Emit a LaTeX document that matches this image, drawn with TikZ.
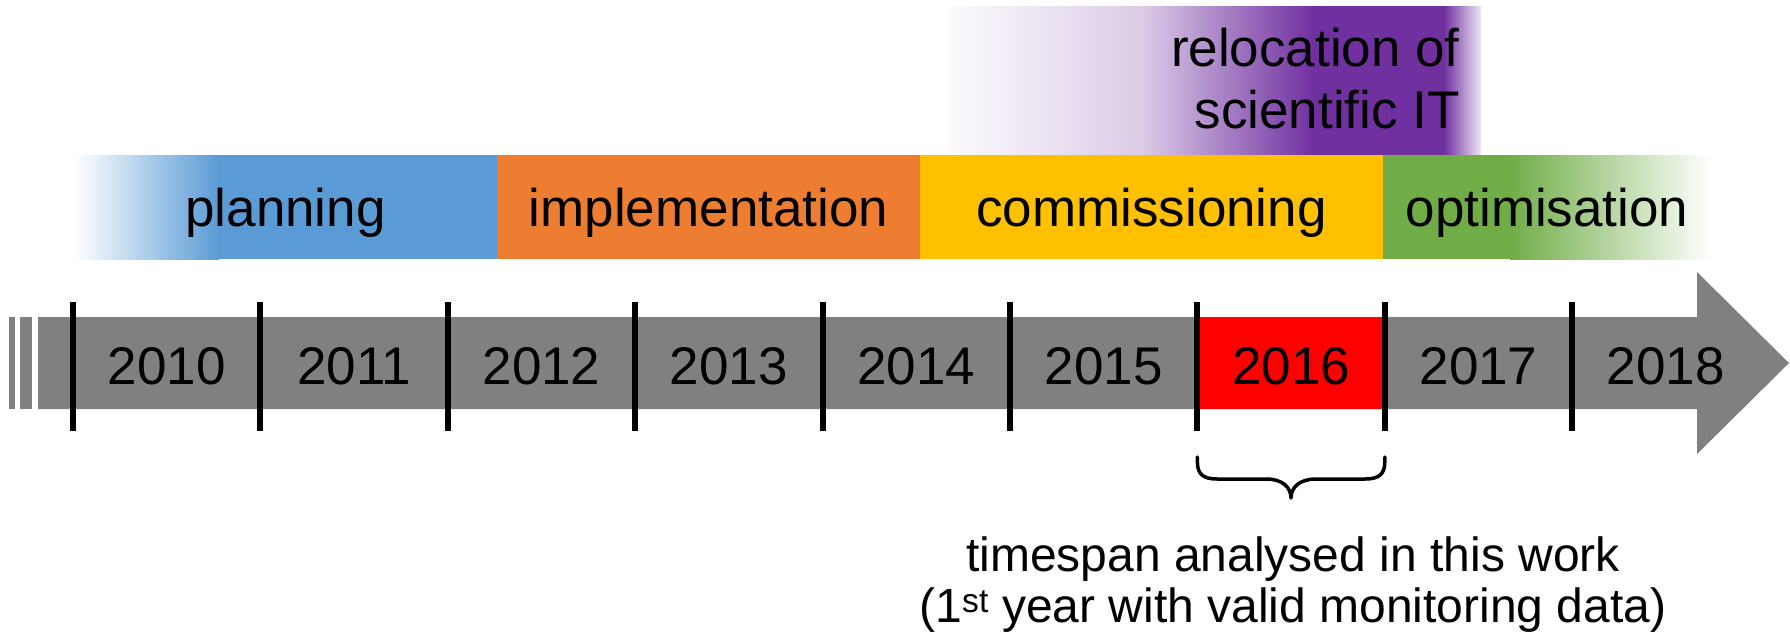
\documentclass[tikz,border=0pt]{standalone}
\usepackage{fontspec}
\setmainfont{Liberation Sans}
\definecolor{cblue}{HTML}{5B9BD5}
\definecolor{corange}{HTML}{ED7D31}
\definecolor{cyellow}{HTML}{FFC000}
\definecolor{cgreen}{HTML}{70AD47}
\definecolor{cpurple}{HTML}{7030A0}
\definecolor{cgray}{HTML}{808080}
\definecolor{cred}{HTML}{FF0000}
\begin{document}
\begin{tikzpicture}[x=1pt,y=-1pt,
  lbl/.style={font=\fontsize{53}{62}\selectfont, inner sep=0pt, anchor=base},
  reloc/.style={font=\fontsize{53}{62}\selectfont, inner sep=0pt, anchor=base east},
  note/.style={font=\fontsize{48}{51}\selectfont, inner sep=0pt, anchor=base},
  yeartick/.style={line width=6pt, black},
  bracestyle/.style={line width=3.5pt, black, line join=round, line cap=round}]
\useasboundingbox (0,0) rectangle (1790,635);
% relocation box
\fill[left color=cpurple!2, right color=cpurple!25] (948,6) rectangle (1143,155);
\fill[left color=cpurple!25, right color=cpurple] (1142,6) rectangle (1314,155);
\fill[cpurple] (1313,6) rectangle (1445,155);
\fill[left color=cpurple, right color=cpurple!12] (1444,6) rectangle (1481,155);
\node[reloc] (reloc1) at (1460,66) {relocation of};
\node[reloc] (reloc2) at (1460,128) {scientific IT};
% phases
\fill[left color=white, right color=cblue] (74,155) rectangle (219,259);
\fill[cblue] (218,155) rectangle (497,259);
\fill[corange] (497,155) rectangle (920,259);
\fill[cyellow] (920,155) rectangle (1383,259);
\fill[cgreen] (1383,155) rectangle (1511,259);
\fill[left color=cgreen, right color=white] (1510,155) rectangle (1712,259);
\node[lbl] (planning) at (285.5,226) {planning};
\node[lbl] (implementation) at (708.5,226) {implementation};
\node[lbl] (commissioning) at (1151.5,226) {commissioning};
\node[lbl] (optimisation) at (1547,226) {optimisation};
% time arrow
\fill[cgray] (9,317) rectangle (15,409);
\fill[cgray] (20,317) rectangle (32,409);
\fill[cgray] (38,317) -- (1697,317) -- (1697,272) -- (1789,363) -- (1697,454) -- (1697,409) -- (38,409) -- cycle;
\fill[cred] (1197.4,317) rectangle (1384.8,409);
\foreach \i in {0,...,8}
  \draw[yeartick] ({73+187.4*\i},302) -- ++(0,129);
\foreach \yr [count=\i from 0] in {2010,2011,2012,2013,2014,2015,2016,2017,2018}
  \node[lbl] (y\yr) at ({166.7+187.4*\i},384) {\yr};
% brace
\coordinate (bl) at (1197.4,457);
\coordinate (br) at (1384.8,457);
\coordinate (btip) at (1291,498);
\draw[bracestyle] (bl) -- (1197.4,462) .. controls (1197.4,474) and (1203,479) .. (1217,479) -- (1266,479) .. controls (1282,479) and (1291,487) .. (btip) .. controls (1291,487) and (1300,479) .. (1316,479) -- (1365,479) .. controls (1379,479) and (1384.8,474) .. (1384.8,462) -- (br);
\node[note] (note1) at (1293,571) {timespan analysed in this work};
\node[note] (note2) at (1293,622) {(1\textsuperscript{st} year with valid monitoring data)};
\end{tikzpicture}
\end{document}
